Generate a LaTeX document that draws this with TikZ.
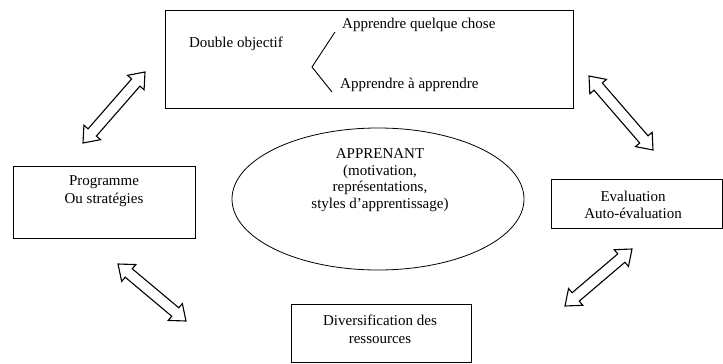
\documentclass[tikz,border=0pt]{standalone}
\usepackage{fontspec}
\setmainfont{Liberation Serif}
\usetikzlibrary{calc,shapes.geometric}
\tikzset{
  box/.style={draw, line width=0.8pt, inner sep=0pt},
  txt/.style={inner sep=0pt, align=center, font=\fontsize{15}{16.5}\selectfont},
  harrow/.style={draw, line width=1.1pt, line join=miter, fill=white},
  brk/.style={draw, line width=0.9pt},
}
\newcommand{\hollowdbl}[2]{%
  \path ($(#1)!14pt!(#2)$) coordinate (#1h) ($(#2)!14pt!(#1)$) coordinate (#2h);
  \draw[harrow] (#1)
    -- ($(#1h)!11pt!90:(#2)$) -- ($(#1h)!5.5pt!90:(#2)$)
    -- ($(#2h)!5.5pt!-90:(#1)$) -- ($(#2h)!11pt!-90:(#1)$)
    -- (#2)
    -- ($(#2h)!11pt!90:(#1)$) -- ($(#2h)!5.5pt!90:(#1)$)
    -- ($(#1h)!5.5pt!-90:(#2)$) -- ($(#1h)!11pt!-90:(#2)$)
    -- cycle;}
\begin{document}
\begin{tikzpicture}[x=1pt,y=-1pt]
\useasboundingbox (0,0) rectangle (723,364);
% boxes
\node[box, minimum width=408pt, minimum height=98pt] (top) at (369,59) {};
\node[box, minimum width=182pt, minimum height=72pt] (prog) at (104,202) {};
\node[box, minimum width=171pt, minimum height=49pt] (eval) at (636.5,203.5) {};
\node[box, minimum width=180pt, minimum height=58pt] (div) at (381,333) {};
\node[draw, ellipse, line width=0.8pt, minimum width=292pt, minimum height=142pt] (app) at (378,199) {};
% texts
\node[txt] (dobj) at (236,44) {Double objectif};
\node[txt, anchor=west] (aqc) at (342,25) {Apprendre quelque chose};
\node[txt, anchor=west] (aaa) at (340,85) {Apprendre à apprendre};
\node[txt, font=\fontsize{15}{18}\selectfont] (progt) at (104,191) {Programme\\Ou stratégies};
\node[txt] (evalt) at (633,205) {Evaluation\\Auto-évaluation};
\node[txt, font=\fontsize{15}{18}\selectfont] (divt) at (380,329) {Diversification des\\ressources};
\node[txt] (appt) at (380,180) {APPRENANT\\(motivation,\\représentations,\\styles d’apprentissage)};
% bracket
\coordinate (b1) at (335,32);
\coordinate (bv) at (312,67);
\coordinate (b2) at (332,92);
\draw[brk] (b1) -- (bv) -- (b2);
% double arrows
\coordinate (tlA) at (83,143); \coordinate (tlB) at (145,72);
\coordinate (trA) at (589,76); \coordinate (trB) at (653,150);
\coordinate (blA) at (118,264); \coordinate (blB) at (186,321);
\coordinate (brA) at (565,306); \coordinate (brB) at (632,249);
\hollowdbl{tlA}{tlB}
\hollowdbl{trA}{trB}
\hollowdbl{blA}{blB}
\hollowdbl{brA}{brB}
\end{tikzpicture}
\end{document}
